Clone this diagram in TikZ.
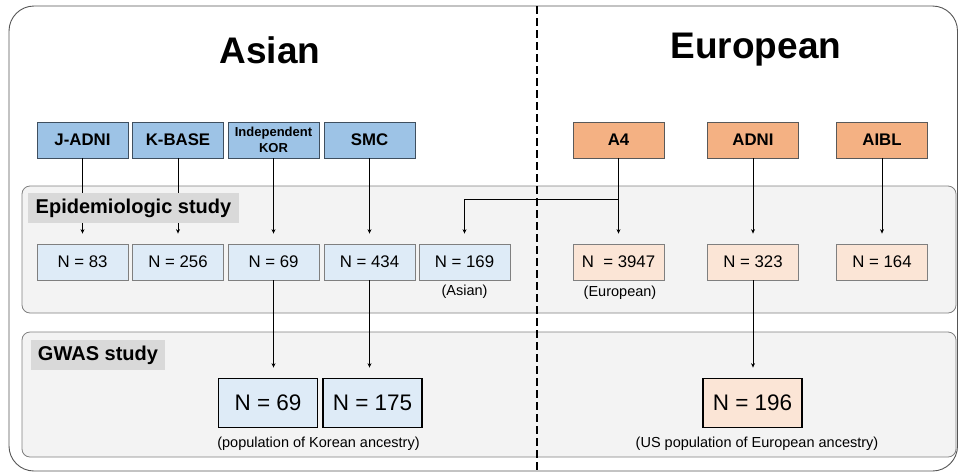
\documentclass[tikz,border=0pt]{standalone}
\usepackage{fontspec}
\setmainfont{Liberation Sans}
\usetikzlibrary{arrows.meta,calc}
\definecolor{topblue}{HTML}{9DC3E6}
\definecolor{topblueline}{HTML}{3F4F5F}
\definecolor{toporange}{HTML}{F4B183}
\definecolor{toporangeline}{HTML}{595959}
\definecolor{lblue}{HTML}{DEEBF7}
\definecolor{lorange}{HTML}{FBE5D6}
\definecolor{boxline}{HTML}{7F7F7F}
\definecolor{panelfill}{HTML}{F3F3F3}
\definecolor{panelline}{HTML}{7F7F7F}
\definecolor{labelfill}{HTML}{D9D9D9}
\definecolor{outerline}{HTML}{555555}
\tikzset{
  topbox/.style={draw=topblueline, fill=topblue, line width=0.8pt, minimum width=91pt, minimum height=36pt, inner sep=0pt, align=center, font=\fontsize{16.8}{18}\selectfont\bfseries},
  eubox/.style={topbox, draw=toporangeline, fill=toporange},
  nbox/.style={draw=boxline, fill=lblue, line width=0.8pt, minimum width=91pt, minimum height=36pt, inner sep=0pt, font=\fontsize{16.8}{18}\selectfont},
  neubox/.style={nbox, fill=lorange},
  gbox/.style={draw=black, fill=lblue, line width=1.8pt, minimum width=99pt, minimum height=49pt, inner sep=0pt, font=\fontsize{22.5}{24}\selectfont},
  geubox/.style={gbox, fill=lorange},
  panel/.style={draw=panelline, fill=panelfill, line width=0.8pt, rounded corners=8pt},
  plabel/.style={fill=labelfill, inner sep=0pt, minimum height=30pt, font=\fontsize{20}{22}\selectfont\bfseries},
  sub/.style={inner sep=0pt, font=\fontsize{14.5}{16}\selectfont},
  title/.style={inner sep=0pt, font=\fontsize{37}{40}\selectfont\bfseries},
  arr/.style={line width=0.9pt, -{Stealth[length=4.5pt,width=4pt]}},
  ln/.style={line width=0.9pt}
}
\begin{document}
\begin{tikzpicture}[x=1pt,y=-1pt]
\useasboundingbox (0,0) rectangle (958,472);
% outer frame
\draw[outerline, line width=0.9pt, rounded corners=25pt] (9,6) rectangle (957.5,471);
% panels
\draw[panel] (22,186) rectangle (956,313);
\draw[panel] (22,332) rectangle (956,457);
% divider
\draw[line width=2pt, dash pattern=on 8pt off 4pt] (537,6) -- (537,472);
% titles
\node[title] (tasian) at (270,50) {Asian};
\node[title] (teuro) at (756,50) {European};
% top boxes
\node[topbox] (jadni) at (82.5,140) {J-ADNI};
\node[topbox] (kbase) at (178,140) {K-BASE};
\node[topbox, font=\fontsize{13}{15.5}\selectfont\bfseries] (ikor) at (273.5,140) {Independent\\KOR};
\node[topbox] (smc) at (369.5,140) {SMC};
\node[eubox] (a4) at (618.5,140) {A4};
\node[eubox] (adni) at (753,140) {ADNI};
\node[eubox] (aibl) at (882,140) {AIBL};
% N boxes
\node[nbox] (n83) at (82.5,262) {N = 83};
\node[nbox] (n256) at (178,262) {N = 256};
\node[nbox] (n69) at (273.5,262) {N = 69};
\node[nbox] (n434) at (369.5,262) {N = 434};
\node[nbox] (n169) at (464.5,262) {N = 169};
\node[neubox] (n3947) at (618.5,262) {N\ \ = 3947};
\node[neubox] (n323) at (753,262) {N = 323};
\node[neubox] (n164) at (882,262) {N = 164};
\node[sub] (sasian) at (464.5,292) {(Asian)};
\node[sub] (seuro) at (620,293) {(European)};
% GWAS boxes
\node[gbox] (g69) at (268,403) {N = 69};
\node[gbox] (g175) at (372.5,403) {N = 175};
\node[geubox] (g196) at (752.5,403) {N = 196};
\node[sub] (skor) at (318.5,444) {(population of Korean ancestry)};
\node[sub] (sus) at (757,444) {(US population of European ancestry)};
% connectors
\draw[arr, shorten >=10pt] (jadni.south) -- (n83.north);
\draw[arr, shorten >=10pt] (kbase.south) -- (n256.north);
\draw[arr, shorten >=10pt] (ikor.south) -- (n69.north);
\draw[arr, shorten >=10pt] (smc.south) -- (n434.north);
\draw[arr, shorten >=10pt] (a4.south) -- (n3947.north);
\draw[arr, shorten >=10pt] (adni.south) -- (n323.north);
\draw[arr, shorten >=10pt] (aibl.south) -- (n164.north);
\coordinate (br) at (618.5,199);
\draw[arr, shorten >=10pt] (br) -| (n169.north);
\draw[arr, shorten >=10pt] (n69.south) -- (n69.south |- g69.north);
\draw[arr, shorten >=10pt] (n434.south) -- (n434.south |- g175.north);
\draw[arr, shorten >=10pt] (n323.south) -- (n323.south |- g196.north);
% panel labels (drawn over the lines)
\node[plabel, minimum width=211pt] (lepi) at (133.5,208) {Epidemiologic study};
\node[plabel, minimum width=134pt] (lgwas) at (98,355) {GWAS study};
\end{tikzpicture}
\end{document}
